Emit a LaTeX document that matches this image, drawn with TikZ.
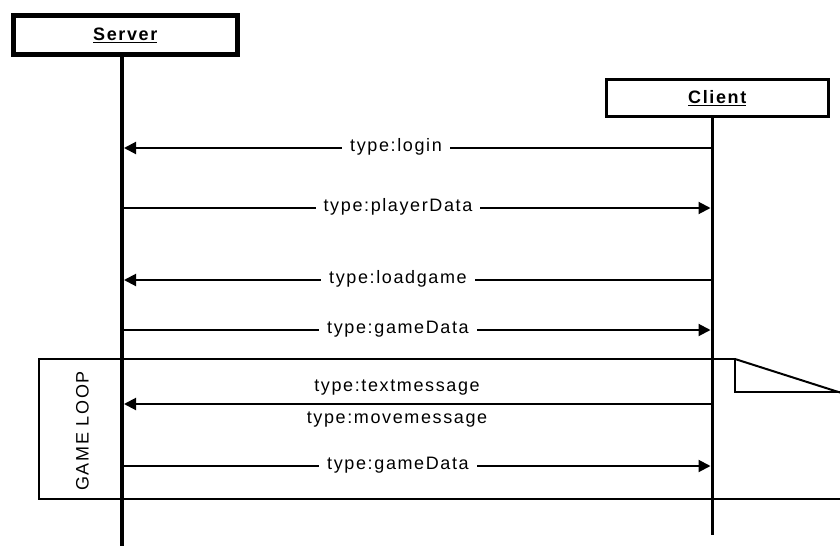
\documentclass[tikz,border=0pt]{standalone}
\usepackage{fontspec}
\setmainfont{Liberation Sans}
\newfontfamily\lblfont[LetterSpace=9]{Liberation Sans}
\usetikzlibrary{arrows.meta}
\tikzset{
  lbl/.style={fill=white, inner xsep=8pt, inner ysep=1pt, font=\lblfont\fontsize{18}{21}\selectfont, text height=13pt, text depth=4pt},
  plain/.style={inner sep=0pt, font=\lblfont\fontsize{18}{21}\selectfont, text height=13pt, text depth=4pt},
  thinline/.style={line width=2pt},
  msg/.style={thinline, -{Triangle[length=12pt,width=12pt]}},
  actor/.style={draw, fill=white, inner sep=0pt, font=\lblfont\bfseries\fontsize{18}{21}\selectfont},
}
\begin{document}
\begin{tikzpicture}[x=1pt,y=-1pt]
\useasboundingbox (0,0) rectangle (840,546);
% game loop frame
\draw[thinline] (840,499) -- (39,499) -- (39,359) -- (735,359) -- (735,392) -- (840,392);
\draw[thinline] (735,359) -- (840,392.5);
\node[plain, rotate=90] (gl) at (84,431) {GAME LOOP};
% lifelines
\coordinate (sTop) at (122,54.5);
\coordinate (sBot) at (122,546);
\coordinate (cTop) at (712,116.5);
\coordinate (cBot) at (712,535);
\draw[line width=4.5pt] (sTop) -- (sBot);
\draw[line width=3pt] (cTop) -- (cBot);
% actors
\node[actor, line width=5pt, minimum width=224.5pt, minimum height=39pt] (srv) at (125.25,35) {\underline{Server}};
\node[actor, line width=3pt, minimum width=221.5pt, minimum height=37pt] (cli) at (717.25,98) {\underline{Client}};
% message endpoints
\foreach \i/\y in {1/148, 2/208, 3/280, 4/330, 5/404, 6/466}{
  \coordinate (s\i) at (122,\y);
  \coordinate (c\i) at (712,\y);
}
% messages
\draw[msg, shorten >=2pt] (c1) -- (s1);
\node[lbl] (m1) at (396,147) {type:login};
\draw[msg, shorten >=1.5pt] (s2) -- (c2);
\node[lbl] (m2) at (398,207) {type:playerData};
\draw[msg, shorten >=2pt] (c3) -- (s3);
\node[lbl] (m3) at (398,279) {type:loadgame};
\draw[msg, shorten >=1.5pt] (s4) -- (c4);
\node[lbl] (m4) at (398,329) {type:gameData};
\draw[msg, shorten >=2pt] (c5) -- (s5);
\node[plain] (m5a) at (397,387) {type:textmessage};
\node[plain] (m5b) at (397,419) {type:movemessage};
\draw[msg, shorten >=1.5pt] (s6) -- (c6);
\node[lbl] (m6) at (398,465) {type:gameData};
\end{tikzpicture}
\end{document}
